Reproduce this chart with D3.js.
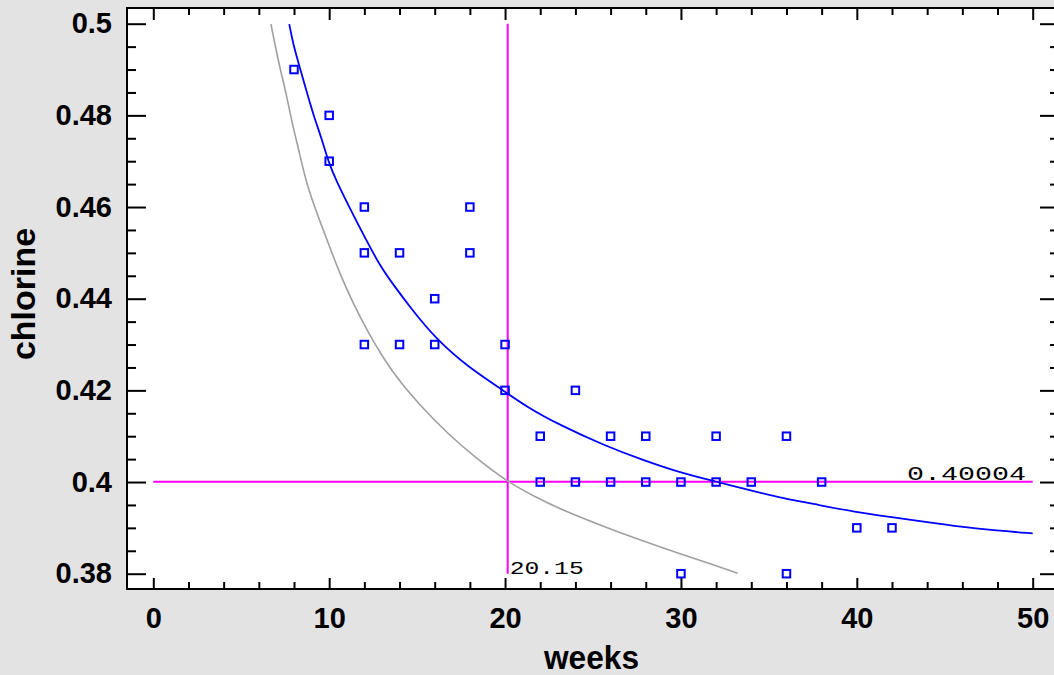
<!DOCTYPE html>
<html><head><meta charset="utf-8">
<script src="https://cdn.jsdelivr.net/npm/d3@7"></script>
<style>
html,body{margin:0;padding:0;background:#e3e3e3;}
svg{display:block;}
</style></head>
<body>
<svg id="chart" width="1054" height="675"></svg>
<script>
// ---- data ----
const obsWeeks = [8,10,10,12,12,12,14,14,16,16,18,18,20,20,22,22,24,24,26,26,28,28,30,30,32,32,34,36,36,38,40,42];
const obsChlorine = [0.49,0.48,0.47,0.46,0.45,0.43,0.45,0.43,0.44,0.43,0.46,0.45,0.43,0.42,0.41,0.40,0.42,0.40,0.41,0.40,0.41,0.40,0.40,0.38,0.41,0.40,0.40,0.41,0.38,0.40,0.39,0.39];

const fitWeeks = [7.73,7.96,8.34,8.72,9.10,9.57,9.95,10.43,11.18,12.13,12.89,13.64,14.59,16.11,18.0,19.90,21.23,23.12,25.76,27.77,29.99,32.0,33.82,35.84,37.85,39.87,41.89,43.90,45.92,47.94,50.0];
const fitChlorine = [0.4999,0.4954,0.4903,0.4852,0.4801,0.4750,0.4699,0.4655,0.4597,0.4526,0.4472,0.4431,0.4382,0.4310,0.4248,0.4200,0.4164,0.4124,0.4078,0.4049,0.4020,0.4001,0.3983,0.3964,0.3950,0.3935,0.3924,0.3913,0.3902,0.3894,0.3888];

const lowWeeks = [6.69,6.92,7.20,7.58,7.87,8.34,8.72,9.48,10.23,10.71,11.28,12.13,13.08,14.02,15.35,16.68,18.19,20.15,21.60,23.12,25.40,27.70,29.80,31.80,33.22];
const lowChlorine = [0.4999,0.4954,0.4903,0.4844,0.4786,0.4714,0.4648,0.4568,0.4492,0.4446,0.4397,0.4332,0.4270,0.4218,0.4160,0.4108,0.4057,0.4000,0.3970,0.3941,0.3906,0.3873,0.3845,0.3820,0.3801];

const crossWeeks = 20.15;
const crossChlorine = 0.40004;
const crossWeeksLabel = "20.15";
const crossChlorineLabel = "0.40004";

const xMajorTicks = [0,10,20,30,40,50];
const xMinorTicks = [2,4,6,8,12,14,16,18,22,24,26,28,32,34,36,38,42,44,46,48];
const yMajorTicks = [0.38,0.40,0.42,0.44,0.46,0.48,0.50];
const yTickLabels = ["0.38","0.4","0.42","0.44","0.46","0.48","0.5"];
const yMinorTicks = [0.385,0.39,0.395,0.405,0.41,0.415,0.425,0.43,0.435,0.445,0.45,0.455,0.465,0.47,0.475,0.485,0.49,0.495];
const xTitle = "weeks";
const yTitle = "chlorine";

// ---- layout ----
const frame = {left:127, top:8, right:1059, bottom:589};
const svg = d3.select("#chart");
const x = d3.scaleLinear().domain([0,50]).range([153.3,1032.7]);
const y = d3.scaleLinear().domain([0.38,0.5]).range([573.7,23.7]);
const FONT = "'Liberation Sans', Arial, sans-serif";

svg.append("rect").attr("x",0).attr("y",0).attr("width",1054).attr("height",675).attr("fill","#e3e3e3");
svg.append("rect").attr("x",frame.left).attr("y",frame.top)
  .attr("width",frame.right-frame.left).attr("height",frame.bottom-frame.top)
  .attr("fill","#ffffff");

function tickAxis(axisFn, scale, vals, size, tx, ty){
  const g = svg.append("g").attr("transform",`translate(${tx},${ty})`)
    .call(axisFn(scale).tickValues(vals).tickSize(size).tickFormat(""));
  g.select(".domain").remove();
  g.selectAll("line").attr("stroke","#000").attr("stroke-width",2);
  return g;
}
// bottom ticks (pointing up)
tickAxis(d3.axisBottom, x, xMajorTicks, -11, 0, frame.bottom);
tickAxis(d3.axisBottom, x, xMinorTicks, -7, 0, frame.bottom);
// top ticks (pointing down)
tickAxis(d3.axisTop, x, xMajorTicks, -12, 0, frame.top);
tickAxis(d3.axisTop, x, xMinorTicks, -7, 0, frame.top);
// left ticks (pointing right)
tickAxis(d3.axisLeft, y, yMajorTicks, -19, frame.left, 0);
tickAxis(d3.axisLeft, y, yMinorTicks, -9, frame.left, 0);
// right ticks (pointing left)
tickAxis(d3.axisRight, y, yMajorTicks, -19, frame.right, 0);
tickAxis(d3.axisRight, y, yMinorTicks, -9, frame.right, 0);

// frame border
svg.append("rect").attr("x",frame.left).attr("y",frame.top)
  .attr("width",frame.right-frame.left).attr("height",frame.bottom-frame.top)
  .attr("fill","none").attr("stroke","#000").attr("stroke-width",2);

// tick labels
const xl = svg.append("g").attr("transform",`translate(0,${frame.bottom})`)
  .call(d3.axisBottom(x).tickValues(xMajorTicks).tickSize(0).tickPadding(18).tickFormat(d3.format("d")));
xl.select(".domain").remove();
xl.selectAll("text").attr("font-family",FONT).attr("font-weight","bold").attr("font-size",29).attr("fill","#000");

const yl = svg.append("g").attr("transform",`translate(${frame.left},0)`)
  .call(d3.axisLeft(y).tickValues(yMajorTicks).tickSize(0).tickPadding(15)
    .tickFormat((d,i)=>yTickLabels[i]));
yl.select(".domain").remove();
yl.selectAll("text").attr("font-family",FONT).attr("font-weight","bold").attr("font-size",29).attr("fill","#000");

// axis titles
svg.append("text").attr("x",591.5).attr("y",669).attr("text-anchor","middle")
  .attr("font-family",FONT).attr("font-weight","bold").attr("font-size",33)
  .attr("textLength",95).attr("lengthAdjust","spacingAndGlyphs").text(xTitle);
svg.append("text").attr("transform","translate(35,294) rotate(-90)").attr("text-anchor","middle")
  .attr("font-family",FONT).attr("font-weight","bold").attr("font-size",33)
  .attr("textLength",132).attr("lengthAdjust","spacingAndGlyphs").text(yTitle);

// reference lines
svg.append("line").attr("x1",x(0)).attr("x2",x(50)).attr("y1",y(crossChlorine)).attr("y2",y(crossChlorine))
  .attr("stroke","#ff00ff").attr("stroke-width",2);
svg.append("line").attr("x1",x(crossWeeks)).attr("x2",x(crossWeeks)).attr("y1",y(0.38)).attr("y2",y(0.5))
  .attr("stroke","#ff00ff").attr("stroke-width",2);

// curves
const line = d3.line().x(d=>x(d[0])).y(d=>y(d[1])).curve(d3.curveBasis);
svg.append("path").datum(lowWeeks.map((w,i)=>[w,lowChlorine[i]]))
  .attr("d",line).attr("fill","none").attr("stroke","#a0a0a0").attr("stroke-width",1.6);
svg.append("path").datum(fitWeeks.map((w,i)=>[w,fitChlorine[i]]))
  .attr("d",line).attr("fill","none").attr("stroke","#0000ff").attr("stroke-width",1.8);

// observations
svg.append("g").selectAll("rect").data(obsWeeks.map((w,i)=>[w,obsChlorine[i]])).join("rect")
  .attr("x",d=>x(d[0])-3.75).attr("y",d=>y(d[1])-3.75).attr("width",7.5).attr("height",7.5)
  .attr("fill","none").attr("stroke","#0000ff").attr("stroke-width",2);

// annotation labels
const MONO = "'Liberation Mono', 'DejaVu Sans Mono', monospace";
svg.append("text").attr("x",x(crossWeeks)+2).attr("y",574).attr("font-family",MONO).attr("font-size",19)
  .attr("textLength",74).attr("lengthAdjust","spacingAndGlyphs").attr("fill","#000").text(crossWeeksLabel);
svg.append("text").attr("x",907).attr("y",480).attr("font-family",MONO).attr("font-size",20)
  .attr("textLength",119).attr("lengthAdjust","spacingAndGlyphs").attr("fill","#000").text(crossChlorineLabel);
</script>
</body></html>
